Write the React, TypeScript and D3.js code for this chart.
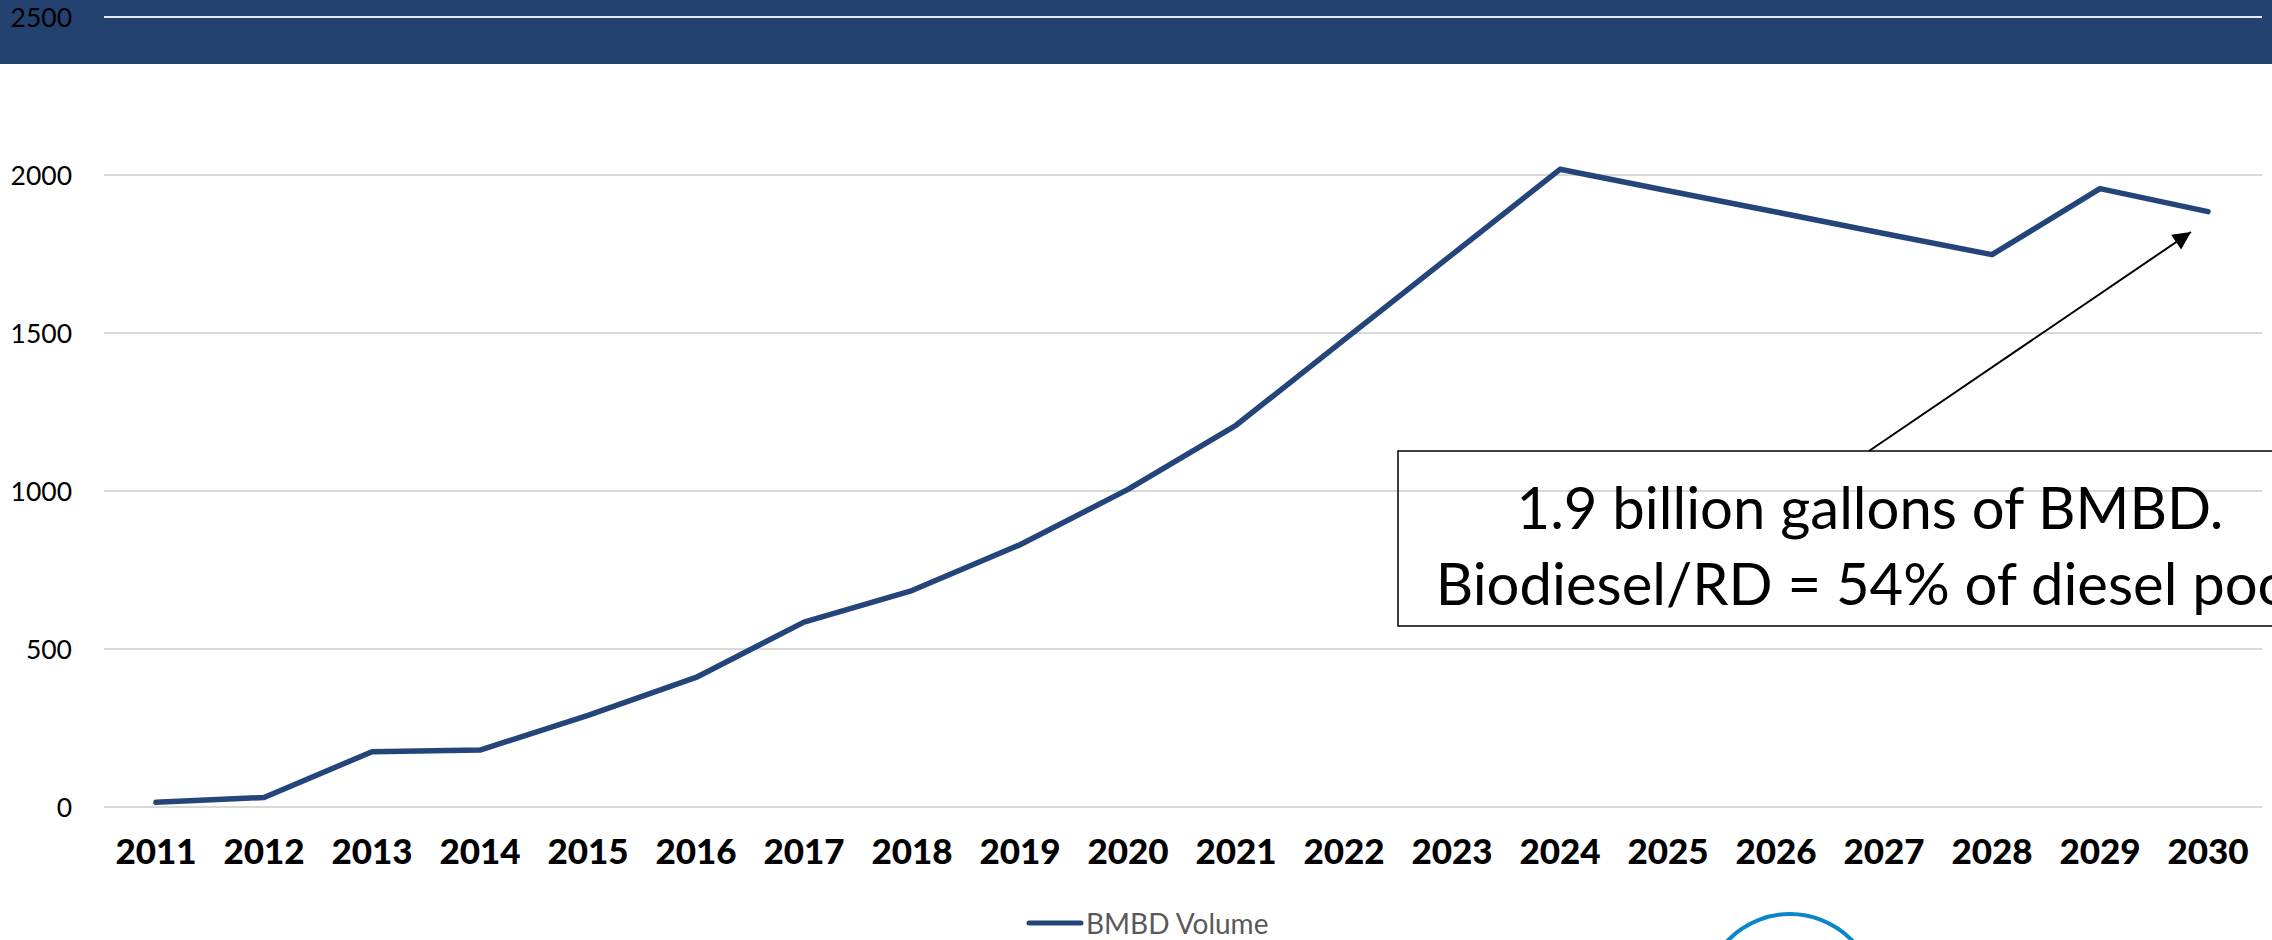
import React from "react";
import * as d3 from "d3";

const years = [
  "2011", "2012", "2013", "2014", "2015", "2016", "2017", "2018", "2019", "2020",
  "2021", "2022", "2023", "2024", "2025", "2026", "2027", "2028", "2029", "2030",
];
const bmbdVolume = [
  15, 30, 175, 180, 290, 410, 585, 685, 830, 1005,
  1208, 1478, 1748, 2018, 1950, 1883, 1815, 1748, 1957, 1884,
];
const yTicks = [0, 500, 1000, 1500, 2000, 2500];
const seriesName = "BMBD Volume";
const noteLines = ["1.9 billion gallons of BMBD.", "Biodiesel/RD = 54% of diesel pool"];

const W = 2272;
const H = 940;

export default function App() {
  const x = d3.scalePoint<string>().domain(years).range([102, 2262]).padding(0.5);
  const y = d3.scaleLinear().domain([0, 2500]).range([807, 17]);
  const line = d3
    .line<number>()
    .x((_, i) => x(years[i]) as number)
    .y((d) => y(d));

  const font = "Lato, 'Open Sans', 'DejaVu Sans', sans-serif";
  const lineColor = "#24457A";

  return (
    <svg
      width={W}
      height={H}
      viewBox={`0 0 ${W} ${H}`}
      style={{ position: "absolute", left: 0, top: 0, display: "block", background: "#fff" }}
      fontFamily={font}
    >
      <defs>
        <marker id="arrowHeadBig" viewBox="0 0 10 10" refX="10" refY="5" markerWidth="22" markerHeight="18" orient="auto" markerUnits="userSpaceOnUse">
          <path d="M0,0 L10,5 L0,10 z" fill="#000" />
        </marker>
      </defs>

      {/* header band */}
      <rect x={0} y={0} width={W} height={64} fill="#23426F" />

      {/* gridlines */}
      {yTicks.map((t) => (
        <line
          key={"g" + t}
          x1={104}
          x2={2262}
          y1={y(t)}
          y2={y(t)}
          stroke={t === 2500 ? "#e6e9ee" : "#d9d9d9"}
          strokeWidth={2}
        />
      ))}

      {/* y tick labels */}
      {yTicks.map((t) => (
        <text
          key={"t" + t}
          x={72}
          y={y(t)}
          dy="0.36em"
          textAnchor="end"
          fontSize={26.5}
          fill="#000"
        >
          {t}
        </text>
      ))}

      {/* x labels */}
      {years.map((yr) => (
        <text
          key={"x" + yr}
          x={x(yr) as number}
          y={864}
          textAnchor="middle"
          fontSize={35}
          fontWeight={900}
          fill="#000"
        >
          {yr}
        </text>
      ))}

      {/* series line */}
      <path
        d={line(bmbdVolume) || ""}
        fill="none"
        stroke={lineColor}
        strokeWidth={5.5}
        strokeLinejoin="round"
        strokeLinecap="round"
      />

      {/* annotation box */}
      <rect x={1398} y={451} width={950} height={175} fill="none" stroke="#000" strokeWidth={1.5} />
      <text x={1870} y={529} textAnchor="middle" fontSize={58} fill="#000">
        {noteLines[0]}
      </text>
      <text x={1870} y={605} textAnchor="middle" fontSize={58} fill="#000">
        {noteLines[1]}
      </text>
      <line
        x1={1869}
        y1={451}
        x2={2191}
        y2={232}
        stroke="#000"
        strokeWidth={2}
        markerEnd="url(#arrowHeadBig)"
      />

      {/* legend */}
      <line x1={1029} x2={1081} y1={923} y2={923} stroke={lineColor} strokeWidth={5} strokeLinecap="round" />
      <text x={1086} y={934} fontSize={28} fill="#595959">
        {seriesName}
      </text>

      {/* decorative circle */}
      <circle cx={1790} cy={1000} r={86} fill="none" stroke="#0B86C8" strokeWidth={4} />
    </svg>
  );
}
